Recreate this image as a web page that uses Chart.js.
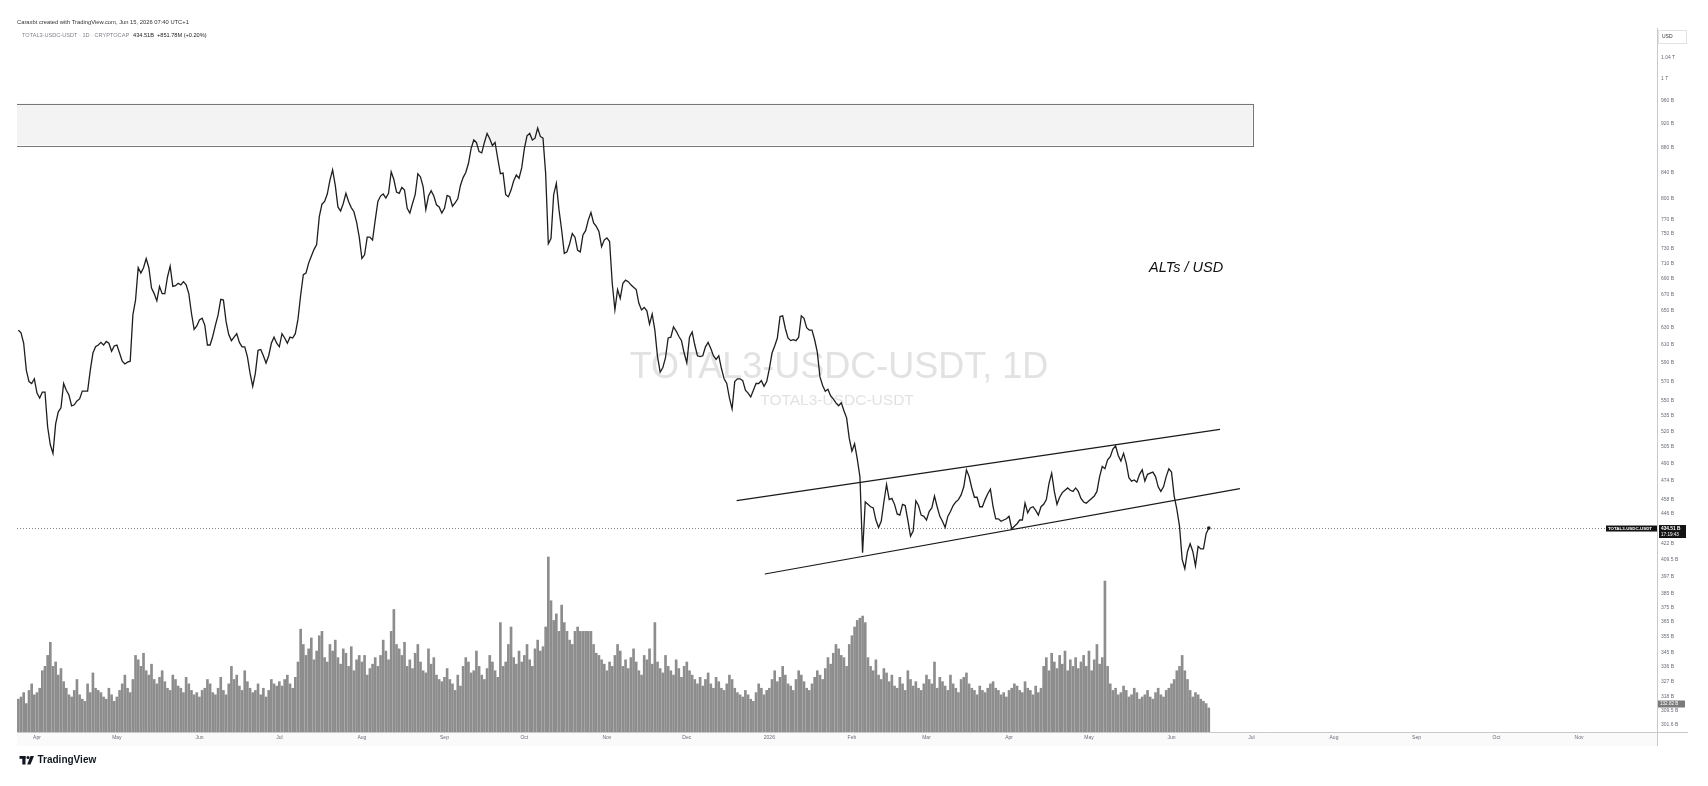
<!DOCTYPE html>
<html><head><meta charset="utf-8">
<script src="https://cdn.jsdelivr.net/npm/chart.js@4.4.1/dist/chart.umd.min.js"></script>
<style>html,body{margin:0;padding:0;background:#fff;}#wrap{width:1708px;height:786px;position:relative;}</style>
</head><body><div id="wrap"><canvas id="c" width="1708" height="786"></canvas></div>
<script>
// ---------------- DATA ----------------
const symbol = 'TOTAL3-USDC-USDT';
const firstDate = '2025-03-25';           // date of first daily close
const viewStart = -7.51, viewEnd = 608.3; // visible range, days from 2025-04-01
// daily closes, billions USD
const closes = [
627,624,612,582,570,568,573, 558,553,559,559,524,507,499, 527,539,543,568,561,556,545,
546,550,552,560,560,560,582, 601,608,610,613,610,614,612, 603,609,610,601,592,589,591,
592,645,663,704,697,704,716, 704,678,671,662,680,671,671, 692,706,680,681,684,682,686,
682,671,647,628,632,639,641, 633,610,610,620,633,645,664, 663,637,622,615,619,623,613,
608,608,597,579,565,579,604, 605,598,590,598,612,619,612, 608,623,618,612,619,618,623,
640,669,695,697,710,719,728, 735,774,792,796,807,828,844, 820,788,782,793,808,796,787,
781,766,745,716,721,745,745, 741,769,796,804,807,801,808, 841,829,810,808,817,813,786,
779,793,806,838,833,818,784, 804,812,804,791,788,779,786, 805,803,789,794,800,820,832,
840,854,878,892,888,873,871, 888,903,894,883,888,862,838, 839,806,803,813,827,836,831,
847,878,899,903,892,895,912, 898,895,838,736,743,806,823, 784,755,723,725,736,750,745,
727,725,748,754,769,780,765, 760,753,732,741,744,739,684, 651,676,665,684,688,686,682,
679,676,659,651,654,650,634, 646,627,597,580,585,596,618, 619,631,626,620,615,601,590,
619,625,610,598,597,598,608, 613,606,598,594,598,584,573, 568,553,542,570,573,573,571,
561,558,554,561,568,568,571, 565,570,584,601,609,618,643, 644,629,618,615,616,615,619,
644,641,630,627,627,616,602, 575,566,560,562,555,552,548, 545,548,540,533,513,501,508,
494,478,415,456,454,452,451, 441,435,440,456,471,458,459, 454,446,445,454,453,441,428,
432,457,453,445,444,441,448, 451,461,452,444,440,435,444, 448,453,456,458,462,469,484,
478,468,460,460,452,452,458, 463,467,452,442,442,440,441, 442,444,434,436,438,441,441,
455,447,451,452,449,445,452, 454,458,472,481,465,454,460, 464,466,468,466,465,468,465,
459,456,455,457,459,461,465, 478,487,485,493,496,503,506, 497,492,499,490,477,474,475,
473,480,484,474,480,481,482, 478,469,465,469,478,485,482, 461,450,436,410,403,416,422,
416,405,420,418,418,430,434.51
];
// daily volume (relative units)
const volumes = [
75,80,90,65,95,110,85, 90,100,140,150,175,205,150, 160,130,145,115,100,85,80,
95,120,85,75,70,110,90, 135,100,95,90,80,75,100, 85,70,80,95,110,130,100,
90,120,175,165,150,180,140, 130,155,120,110,125,140,115, 100,95,130,120,105,100,90,
125,110,95,85,90,80,95, 100,120,110,90,85,100,125, 95,85,110,150,120,130,105,
95,140,115,100,90,95,110, 85,100,80,95,120,110,105, 115,105,120,130,110,100,125,
160,235,200,175,190,215,165, 185,220,230,170,160,200,185, 210,170,155,190,180,150,195,
140,165,175,160,175,130,145, 155,170,150,175,210,185,165, 230,280,200,190,175,205,150,
165,145,180,200,160,140,135, 190,155,170,130,120,115,125, 145,120,110,95,130,105,150,
170,160,135,140,185,150,130, 120,145,175,160,140,125,250, 150,160,200,240,170,155,185,
160,175,200,165,150,190,210, 185,195,240,400,300,255,270, 230,290,250,230,210,200,230,
240,230,230,230,230,230,200, 180,175,165,155,140,160,150, 175,200,185,150,165,145,170,
190,160,140,130,175,165,190, 155,250,160,145,135,175,150, 140,130,165,145,125,150,160,
140,130,120,110,125,105,120, 135,110,100,125,115,100,95, 110,130,120,100,90,85,80,
95,85,75,70,90,110,100, 85,95,100,120,140,115,125, 150,130,110,105,95,120,140,
130,115,100,95,110,125,140, 130,120,145,170,155,180,200, 190,175,170,150,200,220,240,
255,260,265,250,170,150,140, 165,130,120,145,135,115,130, 105,100,125,110,95,140,120,
105,115,100,95,110,130,120, 110,160,100,125,115,105,95, 130,110,100,90,120,125,135,
110,100,95,85,105,95,90, 100,110,115,100,95,85,90, 80,95,100,110,105,95,90,
115,100,95,85,105,90,100, 150,170,140,180,160,145,175, 155,185,140,165,150,170,145,
160,175,150,185,140,165,200, 155,170,345,150,110,95,100, 85,90,105,95,80,85,100,
90,75,80,85,95,80,75, 90,100,85,80,95,100,110, 120,140,150,175,140,120,95,
80,90,85,75,70,65,55
];
const volumeMax = 1609;
const lastVolumeLabel = '132.82 B';
// x-axis month ticks
const monthTickDates = ['2025-04-01','2025-05-01','2025-06-01','2025-07-01','2025-08-01','2025-09-01','2025-10-01','2025-11-01','2025-12-01','2026-01-01','2026-02-01','2026-03-01','2026-04-01','2026-05-01','2026-06-01','2026-07-01','2026-08-01','2026-09-01','2026-10-01','2026-11-01'];
const monthTickLabels = ['Apr','May','Jun','Jul','Aug','Sep','Oct','Nov','Dec','2026','Feb','Mar','Apr','May','Jun','Jul','Aug','Sep','Oct','Nov'];
// price axis ticks (billions)
const priceTicks = [1040,1000,960,920,880,840,800,770,750,730,710,690,670,650,630,610,590,570,550,535,520,505,490,474,458,446,422,409.5,397,385,375,365,355,345,336,327,318,309.5,301.6];
const priceTickLabels = ['1.04 T','1 T','960 B','920 B','880 B','840 B','800 B','770 B','750 B','730 B','710 B','690 B','670 B','650 B','630 B','610 B','590 B','570 B','550 B','535 B','520 B','505 B','490 B','474 B','458 B','446 B','422 B','409.5 B','397 B','385 B','375 B','365 B','355 B','345 B','336 B','327 B','318 B','309.5 B','301.6 B'];
const priceMin = 297.7, priceMax = 1097.9;
// drawings (x in days from 2025-04-01, y in billions)
const boxDays = [-30, 456.5], boxValues = [883.8, 954.5];
const upperLineDays = [262.7, 444.2], upperLineValues = [457.1, 521.7];
const lowerLineDays = [273.3, 451.7], lowerLineValues = [399.0, 467.5];
const lastPriceText = '434.51 B', countdownText = '17:19:43';
const headerLine1 = 'Caraxbt created with TradingView.com, Jun 15, 2026 07:40 UTC+1';
const headerSym = 'TOTAL3-USDC-USDT · 1D · CRYPTOCAP';
const headerVals = '434.51B  +851.78M (+0.20%)';
const noteText = 'ALTs / USD';

// ---------------- BUILD ----------------
const DAY0 = Date.UTC(2025,3,1);
const dayOf = s => { const p = s.split('-').map(Number); return (Date.UTC(p[0],p[1]-1,p[2]) - DAY0)/86400000; };
const d0 = dayOf(firstDate);
const pricePts = closes.map((v,i)=>({x:d0+i, y:v}));
const volPts = volumes.map((v,i)=>({x:d0+i, y:v}));
const monthDays = monthTickDates.map(dayOf);
const FONT = '"Liberation Sans", Arial, sans-serif';

const tvPlugin = {
  id:'tv',
  beforeDraw(chart){
    const c = chart.ctx, a = chart.chartArea;
    c.save();
    c.fillStyle = '#ffffff'; c.fillRect(0,0,chart.width,chart.height);
    c.fillStyle = '#fafafa'; c.fillRect(a.left, a.bottom, a.right - a.left, 14);
    c.textBaseline = 'middle';
    c.font = '5.8px ' + FONT; c.fillStyle = '#333';
    c.fillText(headerLine1, 17, 22.5);
    c.font = '5.6px ' + FONT; c.fillStyle = '#80838c';
    c.fillText(headerSym, 22, 35.5);
    const w = c.measureText(headerSym).width;
    c.fillStyle = '#1a1a1a';
    c.fillText(headerVals, 22 + w + 4, 35.5);
    c.restore();
  },
  beforeDatasetsDraw(chart){
    const c = chart.ctx, a = chart.chartArea, xs = chart.scales.x, ys = chart.scales.y;
    c.save();
    c.beginPath(); c.rect(a.left, a.top, a.right-a.left, a.bottom-a.top); c.clip();
    const cx = (a.left + a.right)/2;
    c.fillStyle = '#e2e2e2'; c.textAlign = 'center'; c.textBaseline = 'middle';
    c.font = '36px ' + FONT; c.fillText(symbol + ', 1D', cx + 2, 368);
    c.font = '15.5px ' + FONT; c.fillText(symbol, cx, 401);
    const x1 = xs.getPixelForValue(boxDays[0]), x2 = xs.getPixelForValue(boxDays[1]);
    const y1 = ys.getPixelForValue(boxValues[1]), y2 = ys.getPixelForValue(boxValues[0]);
    c.fillStyle = '#f3f3f3'; c.fillRect(x1, y1, x2-x1, y2-y1);
    c.strokeStyle = '#777'; c.lineWidth = 1;
    c.strokeRect(Math.round(x1)+0.5, Math.round(y1)+0.5, Math.round(x2-x1), Math.round(y2-y1));
    const yl = Math.round(ys.getPixelForValue(closes[closes.length-1])) + 0.5;
    c.strokeStyle = '#8a8a8a'; c.setLineDash([1,2]);
    c.beginPath(); c.moveTo(a.left, yl); c.lineTo(a.right, yl); c.stroke();
    c.setLineDash([]);
    c.restore();
  },
  afterDraw(chart){
    const c = chart.ctx, a = chart.chartArea, ys = chart.scales.y;
    c.save();
    c.strokeStyle = '#c9c9c9'; c.lineWidth = 1;
    c.beginPath(); c.moveTo(a.right + 0.5, a.top); c.lineTo(a.right + 0.5, a.bottom + 14); c.stroke();
    c.beginPath(); c.moveTo(a.left, a.bottom + 0.5); c.lineTo(a.right + 31, a.bottom + 0.5); c.stroke();
    c.fillStyle = '#fff'; c.strokeStyle = '#e3e3e3';
    c.fillRect(a.right + 1, 30, 28, 13); c.strokeRect(a.right + 1.5, 30.5, 28, 13);
    c.fillStyle = '#333'; c.font = '5px ' + FONT; c.textBaseline = 'middle'; c.textAlign = 'left';
    c.fillText('USD', a.right + 5, 37);
    const yl = ys.getPixelForValue(closes[closes.length-1]);
    c.fillStyle = '#131313';
    c.fillRect(a.right + 2, yl - 3, 27, 13);
    c.fillRect(a.right - 51, yl - 2.5, 51, 6);
    c.fillStyle = '#fff'; c.font = 'bold 4.8px ' + FONT;
    c.fillText(lastPriceText, a.right + 4, yl + 0.5);
    c.font = '4.6px ' + FONT;
    c.fillText(countdownText, a.right + 4, yl + 6.3);
    c.font = 'bold 4.4px ' + FONT;
    c.fillText(symbol, a.right - 49, yl + 0.6);
    c.fillStyle = '#7a7a7a'; c.fillRect(a.right + 1, 700.5, 27, 7);
    c.fillStyle = '#fff'; c.font = '4.6px ' + FONT;
    c.fillText(lastVolumeLabel, a.right + 3, 704.2);
    c.fillStyle = '#111'; c.font = 'italic 14.5px ' + FONT; c.textBaseline = 'middle';
    c.fillText(noteText, 1149, 268);
    c.fillStyle = '#131722';
    c.fillRect(19.5, 756, 6, 2.8); c.fillRect(22.3, 756, 3.2, 8.5);
    c.beginPath(); c.arc(28, 757.5, 1.5, 0, Math.PI*2); c.fill();
    c.beginPath(); c.moveTo(30.5, 756); c.lineTo(34, 756); c.lineTo(30.5, 764.5); c.lineTo(27.2, 764.5); c.closePath(); c.fill();
    c.font = 'bold 10px ' + FONT; c.textBaseline = 'middle';
    c.fillText('TradingView', 37.5, 760.5);
    c.restore();
  }
};

new Chart(document.getElementById('c'), {
  data: {
    datasets: [
      { type:'line', label:'close', data: pricePts, yAxisID:'y', borderColor:'#1e1e1e', borderWidth:1.3,
        pointRadius: ctx => ctx.dataIndex === closes.length-1 ? 1.8 : 0, pointBackgroundColor:'#1e1e1e', pointBorderWidth:0,
        tension:0, order:1 },
      { type:'line', label:'upper', data: upperLineDays.map((d,i)=>({x:d, y:upperLineValues[i]})), yAxisID:'y',
        borderColor:'#1a1a1a', borderWidth:1.2, pointRadius:0, order:2 },
      { type:'line', label:'lower', data: lowerLineDays.map((d,i)=>({x:d, y:lowerLineValues[i]})), yAxisID:'y',
        borderColor:'#1a1a1a', borderWidth:1.2, pointRadius:0, order:2 },
      { type:'bar', label:'volume', data: volPts, yAxisID:'yv', backgroundColor:'#8d8d8d', barThickness:2,
        grouped:false, order:5 }
    ]
  },
  options: {
    responsive:false, animation:false, devicePixelRatio:1,
    layout:{ padding:{ left:17, top:28, right:0, bottom:0 } },
    plugins:{ legend:{display:false}, tooltip:{enabled:false} },
    scales:{
      x:{ type:'linear', min:viewStart, max:viewEnd, offset:false,
          grid:{display:false, drawTicks:false, offset:false}, border:{display:false},
          ticks:{ autoSkip:false, maxRotation:0, padding:3, color:'#6a6d78', font:{size:5, family:FONT},
                  callback:(v,i)=> monthTickLabels[i] ?? '' },
          afterBuildTicks: s => { s.ticks = monthDays.map(v=>({value:v})); },
          afterFit: s => { s.height = 54; } },
      y:{ type:'logarithmic', position:'right', min:priceMin, max:priceMax,
          grid:{display:false, drawTicks:false}, border:{display:false},
          ticks:{ autoSkip:false, padding:4, color:'#6a6d78', font:{size:5, family:FONT},
                  callback:(v,i)=> priceTickLabels[i] ?? '' },
          afterBuildTicks: s => { s.ticks = priceTicks.map(v=>({value:v})); },
          afterFit: s => { s.width = 51; } },
      yv:{ type:'linear', display:false, min:0, max:volumeMax }
    }
  },
  plugins:[tvPlugin]
});
</script></body></html>
